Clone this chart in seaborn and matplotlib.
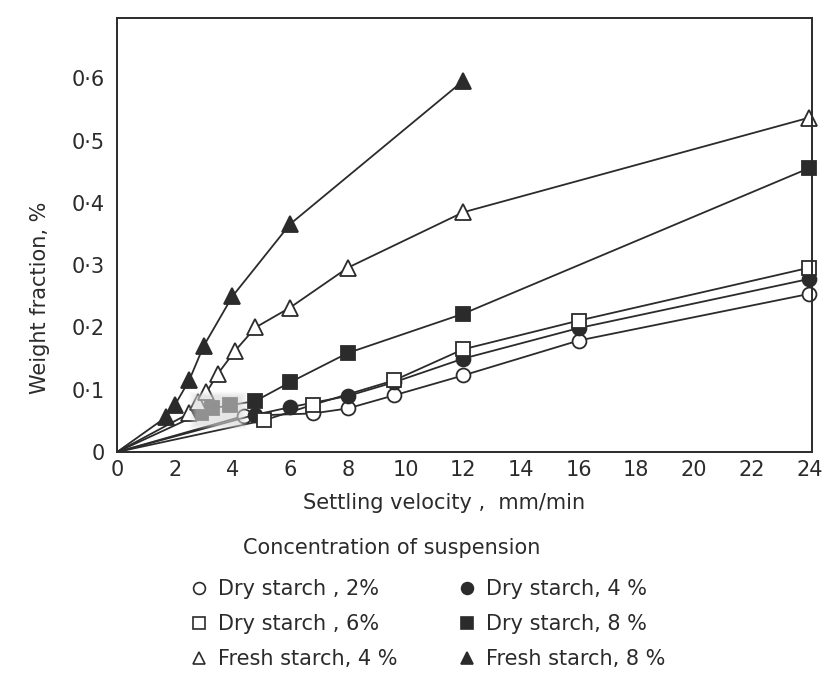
import matplotlib
matplotlib.use("Agg")
import matplotlib.pyplot as plt
from matplotlib.lines import Line2D
import seaborn as sns
import pandas as pd
import numpy as np

# Settling velocity (mm/min) and weight fraction (%) per suspension
dry2_x = [0, 4.4, 6.8, 8.0, 9.6, 12, 16, 24]
dry2_y = [0, 0.058, 0.062, 0.070, 0.091, 0.123, 0.179, 0.254]

dry4_x = [0, 4.8, 6.0, 8.0, 9.6, 12, 16, 24]
dry4_y = [0, 0.060, 0.072, 0.090, 0.112, 0.150, 0.199, 0.278]

dry6_x = [0, 5.1, 6.8, 9.6, 12, 16, 24]
dry6_y = [0, 0.051, 0.076, 0.115, 0.165, 0.211, 0.296]

dry8_x = [0, 2.9, 3.3, 3.9, 4.8, 6.0, 8.0, 12, 24]
dry8_y = [0, 0.062, 0.070, 0.075, 0.082, 0.112, 0.159, 0.222, 0.456]

fresh4_x = [0, 2.5, 2.8, 3.1, 3.5, 4.1, 4.8, 6.0, 8.0, 12, 24]
fresh4_y = [0, 0.062, 0.080, 0.096, 0.126, 0.163, 0.200, 0.232, 0.296, 0.385, 0.537]

fresh8_x = [0, 1.7, 2.0, 2.5, 3.0, 4.0, 6.0, 12]
fresh8_y = [0, 0.056, 0.075, 0.115, 0.170, 0.250, 0.366, 0.596]

x_ticks = [0, 2, 4, 6, 8, 10, 12, 14, 16, 18, 20, 22, 24]
y_ticks = [0, 0.1, 0.2, 0.3, 0.4, 0.5, 0.6]
y_tick_labels = ["0", "0·1", "0·2", "0·3", "0·4", "0·5", "0·6"]

series = [
    ("Dry starch , 2%", dry2_x, dry2_y, "o", False, 10),
    ("Dry starch, 4 %", dry4_x, dry4_y, "o", True, 10),
    ("Dry starch , 6%", dry6_x, dry6_y, "s", False, 9.5),
    ("Dry starch, 8 %", dry8_x, dry8_y, "s", True, 9.5),
    ("Fresh starch, 4 %", fresh4_x, fresh4_y, "^", False, 11),
    ("Fresh starch, 8 %", fresh8_x, fresh8_y, "^", True, 11),
]

sns.set_theme(style="white")
plt.rcParams["font.family"] = ["DejaVu Sans"]
ink = "#2b2b2b"

fig = plt.figure(figsize=(8.33, 6.77), dpi=100)
ax = fig.add_axes([0.1405, 0.3323, 0.8345, 0.6411])

handles = {}
for name, xs, ys, mk, filled, ms in series:
    df = pd.DataFrame({"v": xs, "w": ys})
    # every curve starts at the origin, which carries no symbol
    sns.lineplot(data=df, x="v", y="w", ax=ax, color=ink, lw=1.3,
                 marker=mk, markersize=ms, markeredgewidth=1.3,
                 markeredgecolor=ink, markevery=list(range(1, len(xs))),
                 markerfacecolor=ink if filled else "white",
                 clip_on=False, sort=False, estimator=None)
    handles[name] = Line2D([], [], ls="none", marker=mk, color=ink,
                           markersize=ms * 0.85, markeredgewidth=1.2,
                           markerfacecolor=ink if filled else "white")

# faded smudge over the low-velocity cluster
gx, gy = np.meshgrid(np.linspace(-1, 1, 80), np.linspace(-1, 1, 80))
soft = np.clip((1 - np.maximum(np.abs(gx), np.abs(gy))) * 4, 0, 1)
haze = np.zeros((80, 80, 4))
haze[..., :3] = 0.84
haze[..., 3] = 0.6 * soft
ax.imshow(haze, extent=(2.45, 4.55, 0.035, 0.097), aspect="auto",
          zorder=5, interpolation="bilinear")

ax.set_xlim(0, 24.1)
ax.set_ylim(0, 0.697)
ax.set_xticks(x_ticks)
ax.set_xticklabels([str(t) for t in x_ticks], fontsize=15, color=ink)
ax.set_yticks(y_ticks)
ax.set_yticklabels(y_tick_labels, fontsize=15, color=ink)
ax.tick_params(axis="x", direction="in", length=15, width=1.1, color=ink, pad=6)
ax.tick_params(axis="y", direction="in", length=8, width=1.1, color=ink, pad=9)
ax.set_xlabel("")
ax.set_ylabel("")
for sp in ax.spines.values():
    sp.set_color(ink)
    sp.set_linewidth(1.4)

fig.text(0.048, 0.56, "Weight fraction, %", rotation=90, ha="center",
         va="center", fontsize=15, color=ink)
fig.text(0.533, 0.257, "Settling velocity ,  mm/min", ha="center",
         va="center", fontsize=15, color=ink)
fig.text(0.292, 0.19, "Concentration of suspension", ha="left",
         va="center", fontsize=15, color=ink)

order = ["Dry starch , 2%", "Dry starch , 6%", "Fresh starch, 4 %",
         "Dry starch, 4 %", "Dry starch, 8 %", "Fresh starch, 8 %"]
fig.legend([handles[k] for k in order], order, loc="upper left",
           bbox_to_anchor=(0.228, 0.145), ncol=2, frameon=False,
           fontsize=15, labelcolor=ink, handlelength=0.9,
           handletextpad=0.45, columnspacing=2.9, labelspacing=0.73,
           borderpad=0, borderaxespad=0)

fig.savefig("out.png", dpi=100, facecolor="white")
